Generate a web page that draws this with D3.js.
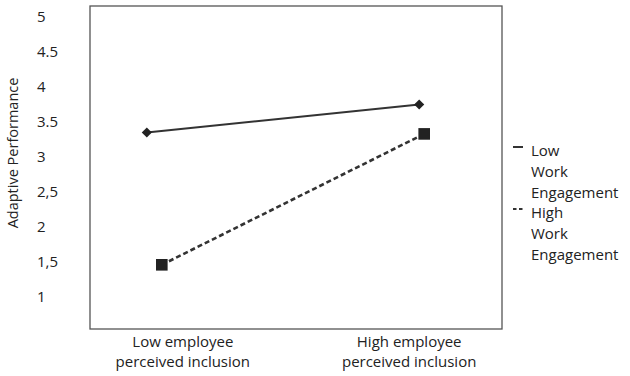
<!DOCTYPE html>
<html>
<head>
<meta charset="utf-8">
<script src="https://cdn.jsdelivr.net/npm/d3@7"></script>
<style>
  body { margin: 0; background: #fff; }
  text { font-family: "Open Sans", sans-serif; fill: #222; }
</style>
</head>
<body>
<svg width="630" height="376"></svg>
<script>
// categories on the x axis
var categories = ['Low employee|perceived inclusion', 'High employee|perceived inclusion'];
// y ticks (labels as printed)
var tickValues = [1, 1.5, 2, 2.5, 3, 3.5, 4, 4.5, 5];
var tickLabels = ['1', '1,5', '2', '2,5', '3', '3.5', '4', '4.5', '5'];
// series values
var lowEngagement = [3.35, 3.75];
var highEngagement = [1.46, 3.33];
var legendLines = [['Low', 'Work', 'Engagement'], ['High', 'Work', 'Engagement']];

var svg = d3.select('svg');

var box = {left: 90, right: 502, top: 6, bottom: 329};

var ScaleY = d3.scaleLinear().domain([1, 5]).range([297, 17]);
var ScaleX = d3.scalePoint().domain(categories).range([box.left, box.right]).padding(0.41);

// plot frame
svg.append('rect')
    .attr('x', box.left).attr('y', box.top)
    .attr('width', box.right - box.left)
    .attr('height', box.bottom - box.top)
    .attr('fill', 'none')
    .attr('stroke', '#555')
    .attr('stroke-width', 1.3);

// y axis labels
var yAxis = svg.append('g')
    .attr('transform', 'translate(37,0)')
    .call(d3.axisRight(ScaleY).tickValues(tickValues).tickSize(0).tickPadding(0)
        .tickFormat(function(d, i){ return tickLabels[i]; }));
yAxis.select('.domain').remove();
yAxis.selectAll('text').attr('font-size', 15).attr('fill', '#222').attr('font-family', '"Open Sans", sans-serif');

svg.append('text')
    .attr('transform', 'translate(18,153) rotate(-90)')
    .attr('text-anchor', 'middle')
    .attr('font-size', 14.5)
    .text('Adaptive Performance');

// x category labels
var xLab = svg.selectAll('.xlab')
    .data(categories)
    .enter()
    .append('text')
    .attr('class', 'xlab')
    .attr('text-anchor', 'middle')
    .attr('font-size', 15);
xLab.each(function(d){
    var t = d3.select(this);
    d.split('|').forEach(function(s, i){
        t.append('tspan')
            .attr('x', ScaleX(d))
            .attr('y', 347 + i * 20)
            .text(s);
    });
});

// the series (small x shift per series, as in the original)
var series = [
    {values: lowEngagement, dx: [-36, 10], dash: null, marker: 'diamond'},
    {values: highEngagement, dx: [-21, 15], dash: '5,3', marker: 'square'}
];

series.forEach(function(s){
    var pts = s.values.map(function(v, i){
        return [ScaleX(categories[i]) + s.dx[i], ScaleY(v)];
    });
    svg.append('path')
        .attr('d', d3.line()(pts))
        .attr('fill', 'none')
        .attr('stroke', '#333')
        .attr('stroke-width', s.dash ? 2.6 : 2)
        .attr('stroke-dasharray', s.dash);
    svg.selectAll(null)
        .data(pts)
        .enter()
        .append('path')
        .attr('transform', function(d){ return 'translate(' + d[0] + ',' + d[1] + ')'; })
        .attr('d', s.marker == 'diamond'
            ? d3.symbol().type(d3.symbolDiamond2).size(65)()
            : d3.symbol().type(d3.symbolSquare).size(135)())
        .attr('fill', '#222');
});

// legend
legendLines.forEach(function(lines, k){
    var y0 = 151 + k * 62;
    svg.append('line')
        .attr('x1', 513).attr('x2', 523)
        .attr('y1', y0 - 4).attr('y2', y0 - 4)
        .attr('stroke', '#333')
        .attr('stroke-width', 2)
        .attr('stroke-dasharray', k == 1 ? '3.5,2.5' : null);
    lines.forEach(function(s, i){
        svg.append('text')
            .attr('x', 531)
            .attr('y', y0 + i * 21 + 5)
            .attr('font-size', 15)
            .text(s);
    });
});
</script>
</body>
</html>
